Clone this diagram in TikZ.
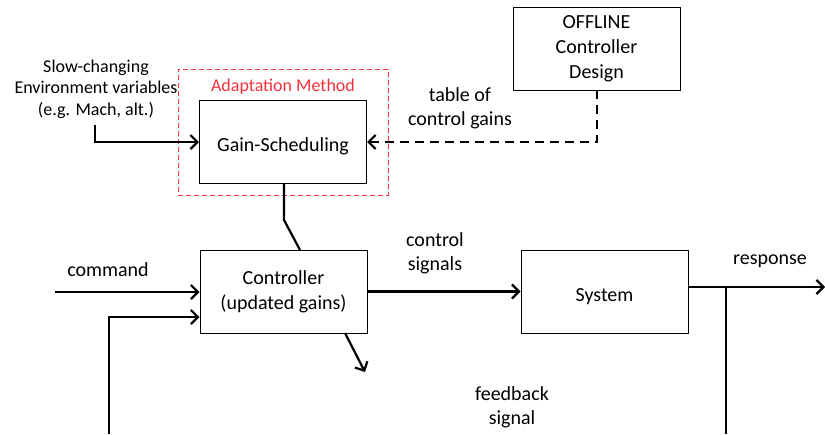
\documentclass[tikz,border=0pt]{standalone}
\usepackage{fontspec}
\setmainfont{Carlito}
\usetikzlibrary{arrows.meta}
\definecolor{adred}{RGB}{240,50,60}
\begin{document}
\begin{tikzpicture}[x=1pt,y=-1pt,
  blk/.style={draw,line width=1pt,minimum width=167pt,minimum height=83pt,inner sep=0pt,align=center,font=\fontsize{20}{25}\selectfont,execute at begin node={\rule{0pt}{23pt}}},
  lbl/.style={align=center,inner sep=0pt,font=\fontsize{20}{24}\selectfont},
  conn/.style={line width=2.2pt,-{Straight Barb[length=7pt,width=14pt,line width=2.2pt]}},
  wire/.style={line width=2.2pt},
  dconn/.style={conn,dash pattern=on 9pt off 6pt}]
\useasboundingbox (0,0) rectangle (825,434);
% boxes
\node[blk] (gs) at (283,141.5) {Gain-Scheduling};
\node[draw=adred,dash pattern=on 5pt off 3pt,line width=1pt,minimum width=210pt,minimum height=126pt,inner sep=0pt] (adapt) at (283,132) {};
\node[text=adred,inner sep=0pt,font=\fontsize{18}{21}\selectfont] (adl) at (283,87) {Adaptation Method};
\node[blk] (ctrl) at (283.5,291.5) {Controller\\(updated gains)};
\node[blk] (sys) at (604.5,291.5) {System};
\node[blk] (off) at (596.5,49) {OFFLINE\\Controller\\Design};
% labels
\node[align=center,inner sep=0pt,font=\fontsize{18}{21.5}\selectfont] (env) at (96,89) {Slow-changing\\Environment variables\\(e.g. Mach, alt.)};
\node[lbl] (tab) at (460,108) {table of\\control gains};
\node[lbl] (cs) at (435,253) {control\\signals};
\node[lbl] (cmd) at (108,270) {command};
\node[lbl] (resp) at (770,261) {response};
\node[lbl] (fb) at (512,407) {feedback\\signal};
% coordinates
\coordinate (e0) at (95,125);
\coordinate (e1) at (95,142);
\coordinate (gsout) at (284,183);
\coordinate (k) at (284,220);
\coordinate (cin) at (300,250);
\coordinate (c1) at (345,333);
\coordinate (c2) at (365,372);
\coordinate (cmd0) at (55,292);
\coordinate (fbl) at (109,434);
\coordinate (fbc) at (109,317);
\coordinate (r0) at (689,287);
\coordinate (r1) at (825,287);
\coordinate (rt) at (726,287);
\coordinate (rb) at (726,434);
\coordinate (o0) at (597,90);
\coordinate (o1) at (597,142);
% connectors
\draw[conn] (e0) -- (e1) -- (gs.west |- e1);
\draw[wire] (gsout) -- (k) -- (cin);
\draw[conn] (c1) -- (c2);
\draw[conn] (cmd0) -- (ctrl.west |- cmd0);
\draw[conn] (fbl) -- (fbc) -- (ctrl.west |- fbc);
\draw[conn] (ctrl.east) -- (sys.west);
\draw[conn] (r0) -- (r1);
\draw[wire] (rt) -- (rb);
\draw[dconn] (o0) -- (o1) -- (gs.east |- o1);
\end{tikzpicture}
\end{document}
